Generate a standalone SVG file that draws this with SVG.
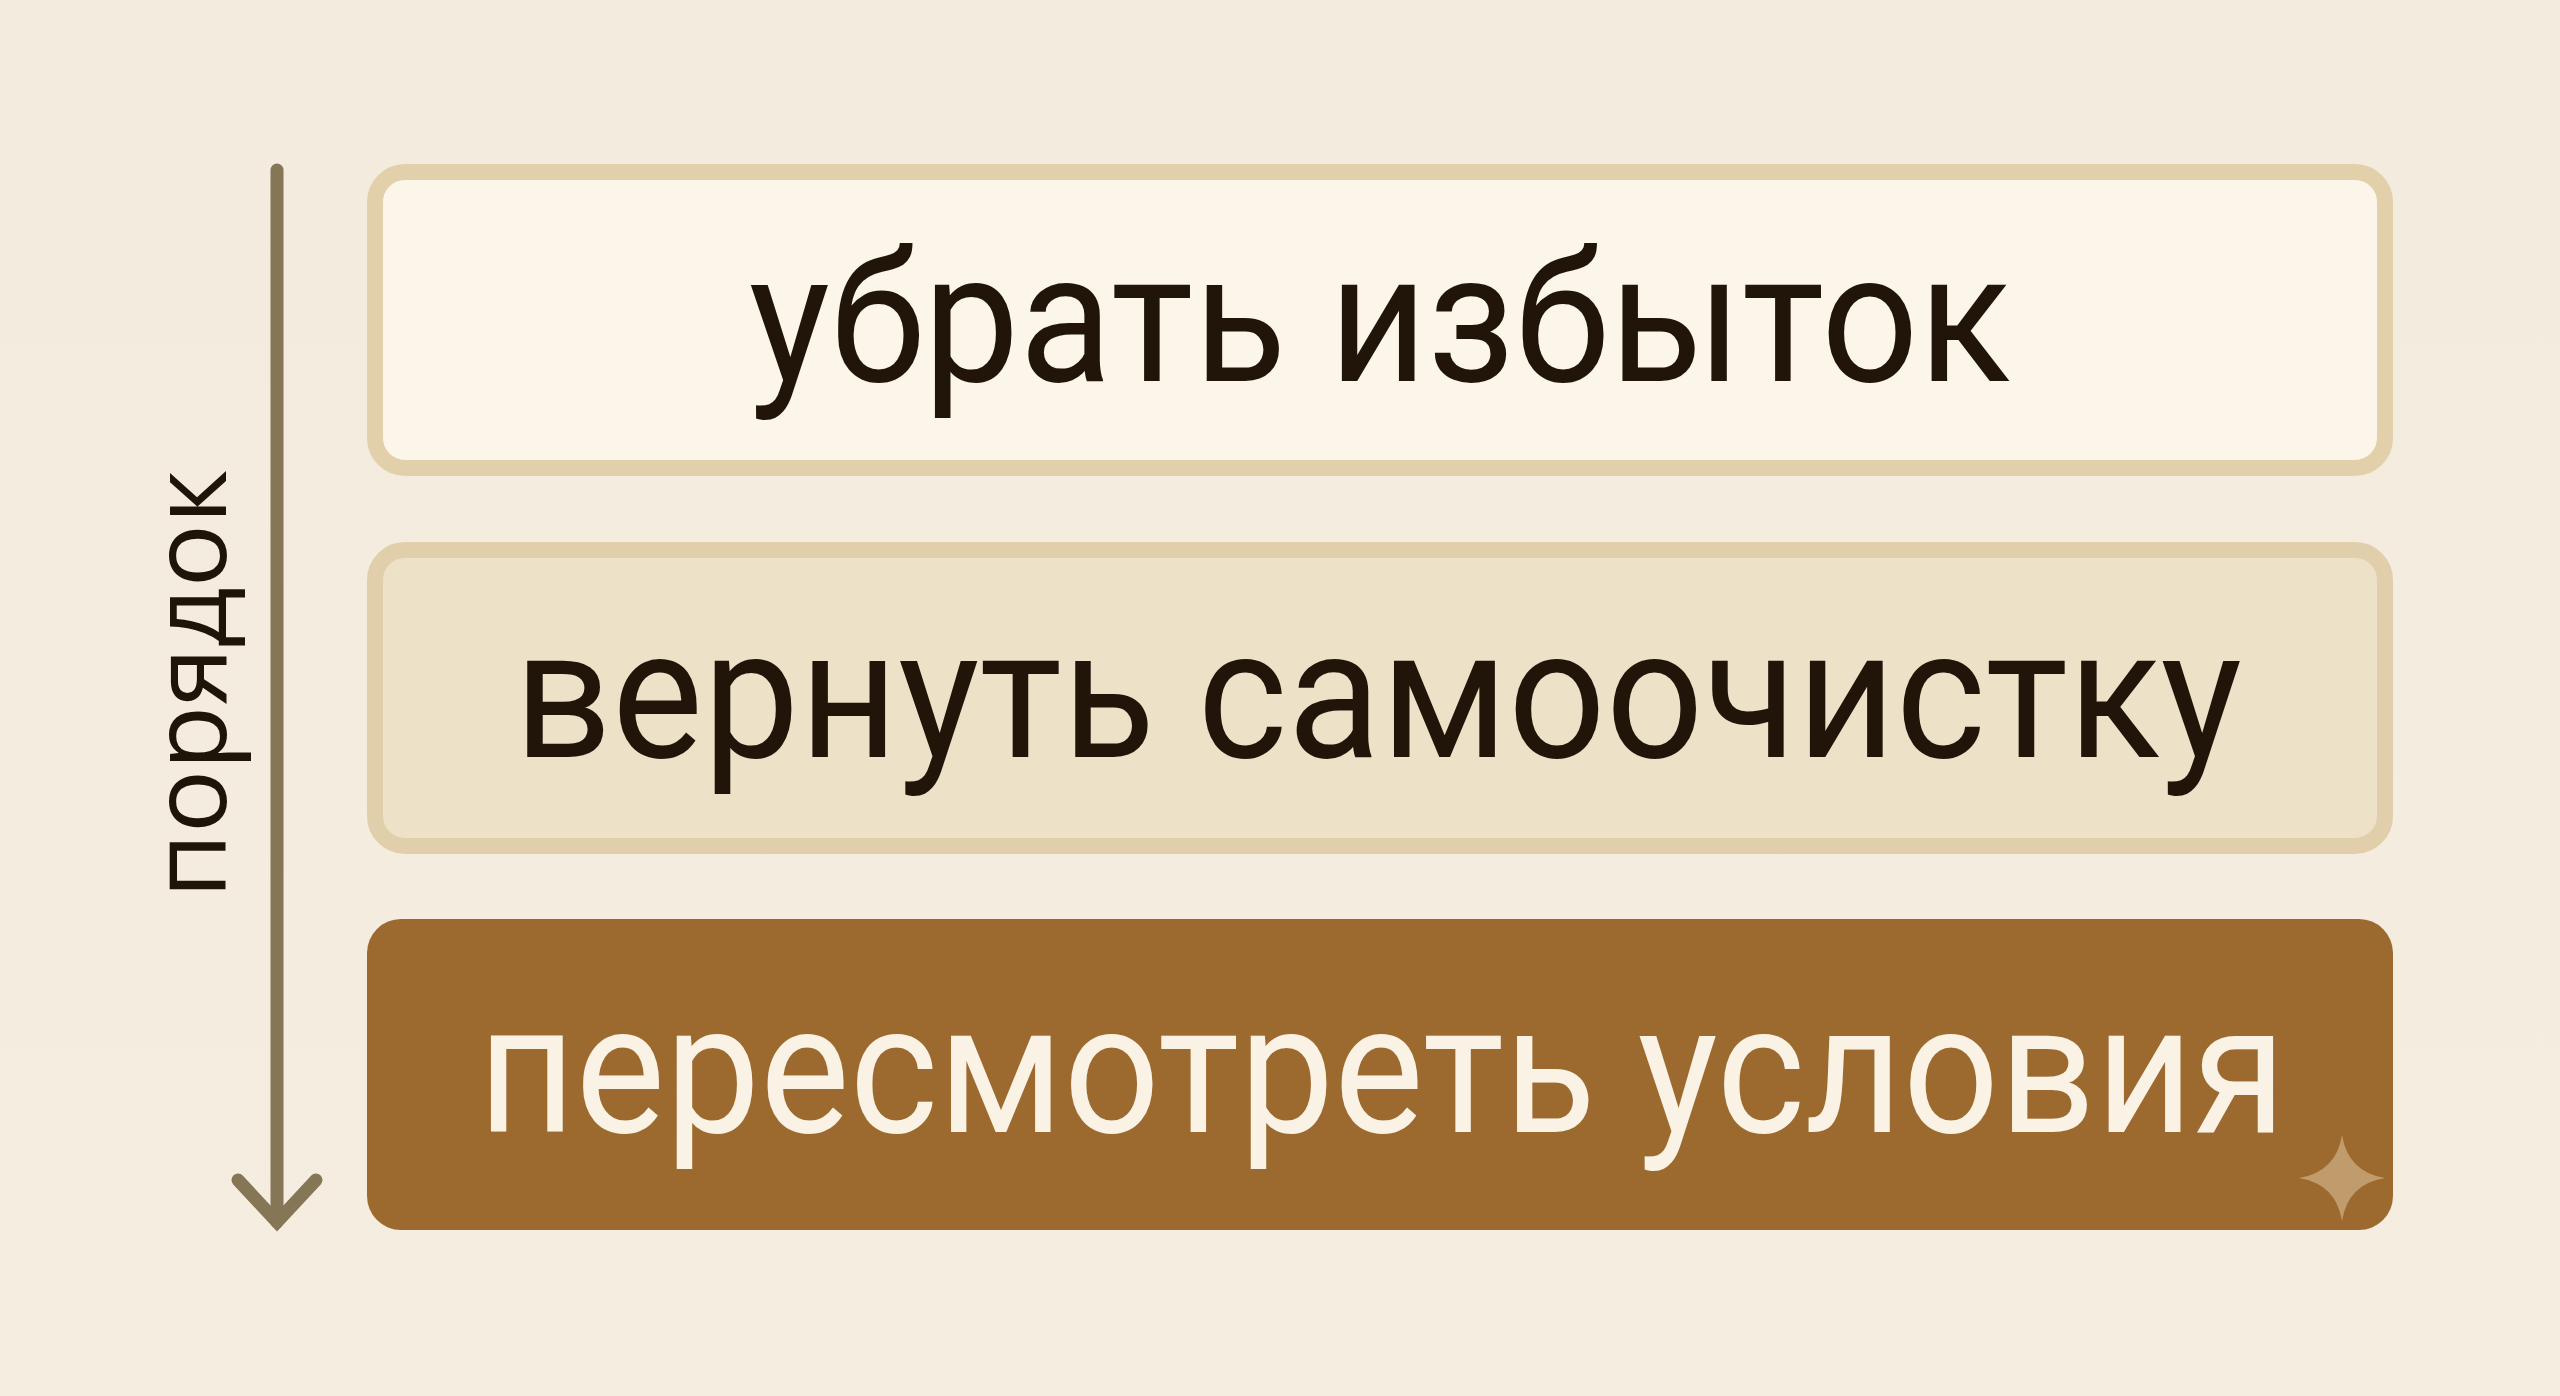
<svg xmlns="http://www.w3.org/2000/svg" width="2560" height="1396" viewBox="0 0 2560 1396">
<defs>
<style>
.lbl{font-family:Roboto,"Noto Sans",sans-serif;font-size:182px;text-anchor:middle}
.dark{fill:#21150a}
.light{fill:#faf2e4}
.axis{stroke:#857656;stroke-width:13;stroke-linecap:round;fill:none}
</style>
<linearGradient id="bg" x1="0" y1="0" x2="0" y2="1">
<stop offset="0" stop-color="#f3ebde"/>
<stop offset="1" stop-color="#f5eddf"/>
</linearGradient>
</defs>
<rect width="2560" height="1396" fill="url(#bg)"/>
<g id="connectors">
<line class="axis" x1="277" y1="170" x2="277" y2="1222"/>
<polyline class="axis" points="238,1180 277,1222 316,1180" stroke-linecap="butt"/>
</g>
<text id="axis-label" transform="translate(226,684) rotate(-90)" font-family="'Open Sans','Noto Sans',sans-serif" font-size="105" font-weight="500" fill="#1f140a" text-anchor="middle">порядок</text>
<g id="step1">
<rect x="375" y="172" width="2010" height="296" rx="30" fill="#fbf5ea" stroke="#e2d0ab" stroke-width="16"/>
<text class="lbl dark" x="1380" y="381" textLength="1262" lengthAdjust="spacingAndGlyphs">убрать избыток</text>
</g>
<g id="step2">
<rect x="375" y="550" width="2010" height="296" rx="30" fill="#ede1c7" stroke="#e1cfab" stroke-width="16"/>
<text class="lbl dark" x="1378" y="757" textLength="1728" lengthAdjust="spacingAndGlyphs">вернуть самоочистку</text>
</g>
<g id="step3">
<rect x="367" y="919" width="2026" height="311" rx="34" fill="#9c6a2f"/>
<text class="lbl light" x="1382" y="1132" textLength="1808" lengthAdjust="spacingAndGlyphs">пересмотреть условия</text>
<path d="M2342,1135 Q2348,1172 2385,1178 Q2348,1184 2342,1221 Q2336,1184 2299,1178 Q2336,1172 2342,1135 Z" fill="#c09b6c"/>
</g>
</svg>
